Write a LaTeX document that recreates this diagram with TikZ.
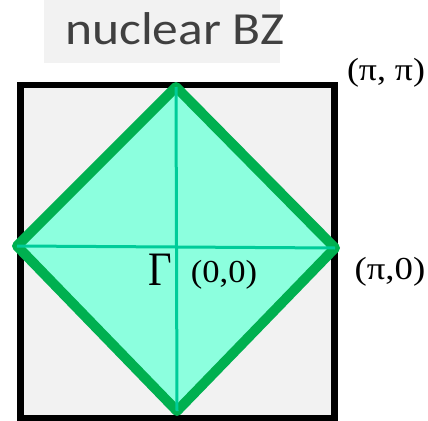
\documentclass[tikz,border=0pt]{standalone}
\usepackage{fontspec}
\usepackage{graphicx}
\setmainfont{Liberation Serif}
\newfontfamily\titlefont{Carlito}
\definecolor{boxgray}{HTML}{F2F2F2}
\definecolor{titlegray}{HTML}{404040}
\definecolor{bzgreen}{HTML}{00B050}
\definecolor{bzfill}{HTML}{8CFFDE}
\definecolor{bzline}{HTML}{00CC99}
\tikzset{
  lbl/.style={inner sep=0pt, font=\fontsize{32}{34}\selectfont},
}
\begin{document}
\begin{tikzpicture}[x=1pt,y=-1pt]
\useasboundingbox (0,0) rectangle (428,420);
% title
\fill[boxgray] (44,0) rectangle (280,63);
\node[anchor=base west, inner sep=0pt, text=titlegray, font=\titlefont\fontsize{46}{48}\selectfont] (title) at (65,45) {\scalebox{1.12}[1]{nuclear BZ}};
% outer square
\draw[line width=6.5pt, fill=boxgray] (20.5,85) rectangle (334.5,418);
% diamond
\coordinate (T) at (176,87);
\coordinate (R) at (335,248);
\coordinate (B) at (177,411);
\coordinate (L) at (17,246);
\filldraw[fill=bzfill, draw=bzgreen, line width=10pt, line join=round] (T) -- (R) -- (B) -- (L) -- cycle;
\draw[bzline, line width=3pt] (L) -- (R);
\draw[bzline, line width=3pt] (T) -- (B);
% labels
\node[lbl, anchor=center] (pipi) at (386,73) {\scalebox{1.12}[1]{(π, π)}};
\node[lbl, anchor=center] (pi0) at (390,272) {\scalebox{1.15}[1]{(π,0)}};
\node[lbl, anchor=center] (zero) at (224,275) {\scalebox{1.08}[1]{(0,0)}};
\node[inner sep=0pt, font=\fontsize{48}{50}\selectfont, anchor=base] (gamma) at (160,285) {\scalebox{0.85}[1]{Γ}};
\end{tikzpicture}
\end{document}
